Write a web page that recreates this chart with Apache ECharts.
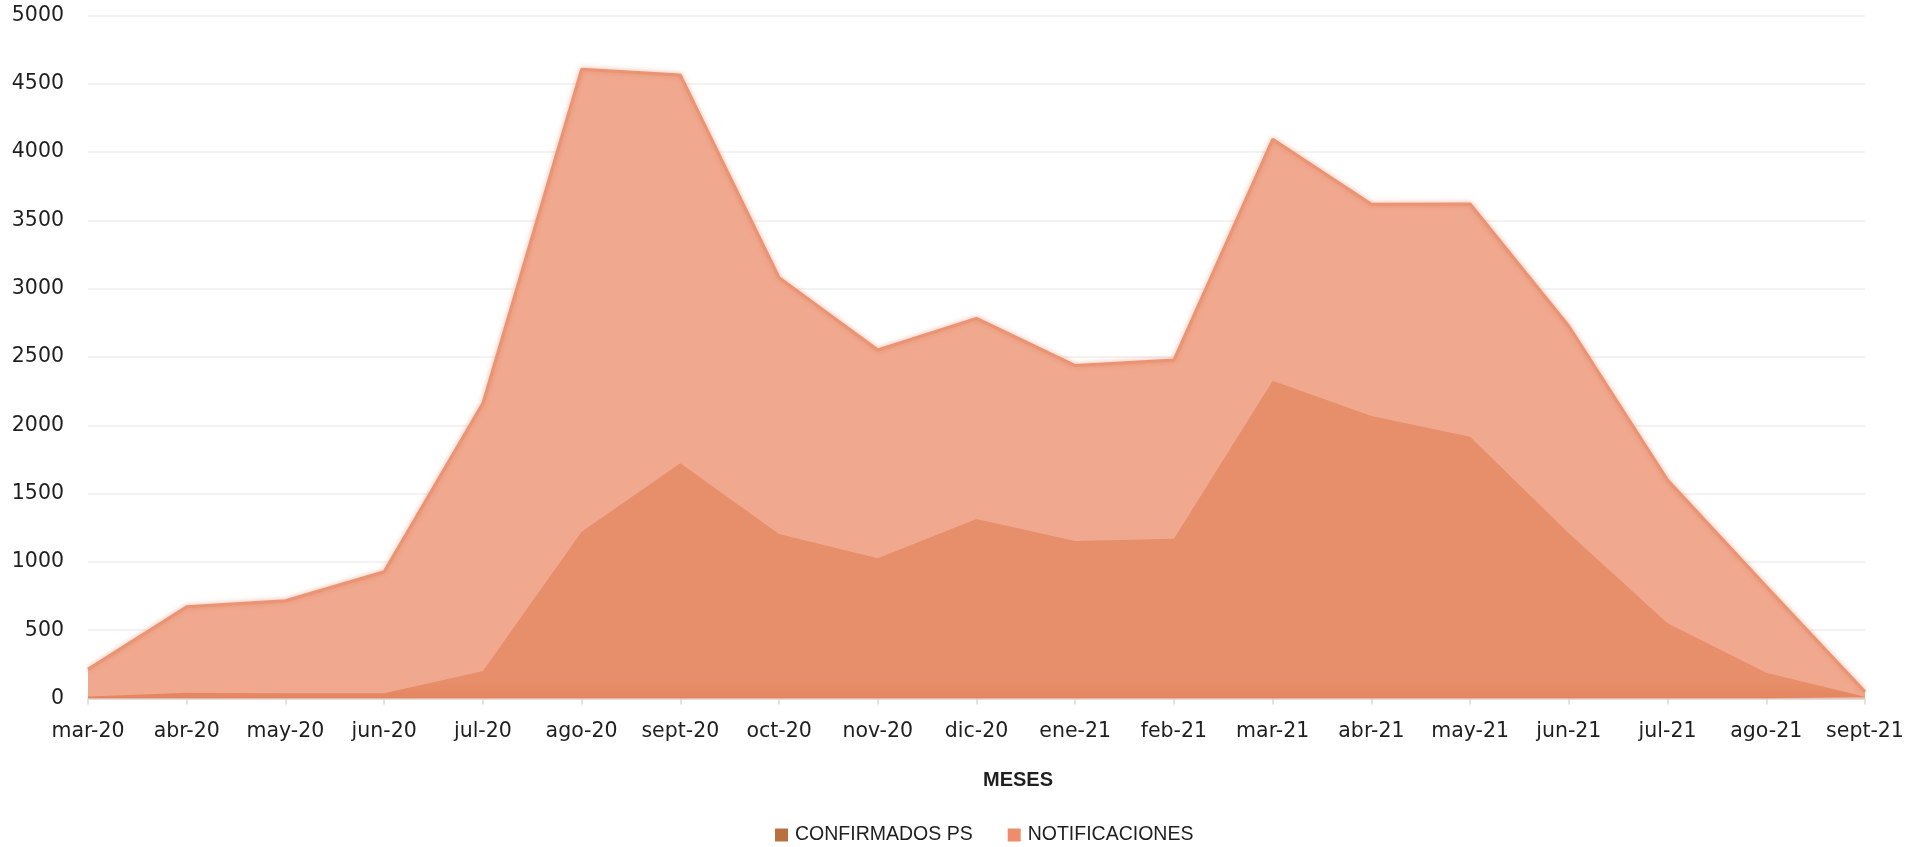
<!DOCTYPE html>
<html>
<head>
<meta charset="utf-8">
<title>Confirmados PS y notificaciones por mes</title>
<script src="https://cdn.jsdelivr.net/npm/echarts@6/dist/echarts.min.js"></script>
<style>
  html, body { margin: 0; padding: 0; background: #ffffff; }
  #chart { width: 1908px; height: 847px; }
</style>
</head>
<body>
<div id="chart"></div>
<script>
// Meses del periodo mar-2020 a sept-2021
const meses = ['mar-20', 'abr-20', 'may-20', 'jun-20', 'jul-20', 'ago-20', 'sept-20', 'oct-20', 'nov-20', 'dic-20',
  'ene-21', 'feb-21', 'mar-21', 'abr-21', 'may-21', 'jun-21', 'jul-21', 'ago-21', 'sept-21'];

// Notificaciones por mes
const notificaciones = [214, 672, 716, 928, 2161, 4606, 4564, 3081, 2551, 2783,
  2437, 2478, 4094, 3618, 3620, 2725, 1600, 820, 50];

// Casos confirmados PS por mes
const confirmadosPS = [15, 42, 38, 38, 201, 1221, 1722, 1204, 1026, 1314,
  1153, 1170, 2327, 2068, 1917, 1210, 550, 189, 13];

// Marcas del eje vertical
const ejeY = { min: 0, max: 5000, interval: 500 };

const chart = echarts.init(document.getElementById('chart'), null, { renderer: 'canvas' });

const option = {
  backgroundColor: '#ffffff',
  animation: false,
  grid: { left: 88, right: 43, top: 15.5, bottom: 148.5, containLabel: false },
  xAxis: {
    type: 'category',
    data: meses,
    boundaryGap: false,
    axisLine: { lineStyle: { color: '#D9D9D9', width: 1.5 } },
    axisTick: { show: true, interval: 0, alignWithLabel: true, length: 6, lineStyle: { color: '#D9D9D9', width: 1.5 } },
    axisLabel: { interval: 0, hideOverlap: false, color: '#1F1F1F', fontFamily: 'DejaVu Sans', fontSize: 20.5, margin: 23 },
    splitLine: { show: false }
  },
  yAxis: {
    type: 'value',
    min: ejeY.min,
    max: ejeY.max,
    interval: ejeY.interval,
    axisLine: { show: false },
    axisTick: { show: false },
    axisLabel: {
      color: '#1F1F1F', fontFamily: 'DejaVu Sans', fontSize: 20.5, margin: 24,
      formatter: function (v) { return String(v); }
    },
    splitLine: { lineStyle: { color: '#EFEFEF', width: 1.5 } }
  },
  legend: {
    left: 770,
    top: 820,
    itemWidth: 13,
    itemHeight: 13,
    itemGap: 35,
    icon: 'rect',
    textStyle: { color: '#1F1F1F', fontFamily: 'Liberation Sans', fontSize: 19.5, padding: [0, 0, 0, 2] },
    data: [
      { name: 'CONFIRMADOS PS', itemStyle: { color: '#B9703F' } },
      { name: 'NOTIFICACIONES', itemStyle: { color: '#ED8D6B' } }
    ]
  },
  graphic: [{
    type: 'text',
    left: 1017 - 34,
    top: 770,
    style: {
      text: 'MESES',
      fill: '#1F1F1F',
      font: 'bold 20px "Liberation Sans", sans-serif'
    }
  }],
  series: [
    {
      name: 'NOTIFICACIONES',
      type: 'line',
      data: notificaciones,
      showSymbol: false,
      symbol: 'none',
      z: 2,
      itemStyle: { color: '#ED8D6B' },
      lineStyle: { color: '#EA9473', width: 3, shadowColor: 'rgba(230,130,95,0.7)', shadowBlur: 5 },
      areaStyle: { color: '#F0A98F', opacity: 1 }
    },
    {
      name: 'CONFIRMADOS PS',
      type: 'line',
      data: confirmadosPS,
      showSymbol: false,
      symbol: 'none',
      z: 3,
      itemStyle: { color: '#B9703F' },
      lineStyle: { width: 0 },
      areaStyle: {
        opacity: 1,
        color: {
          type: 'linear', x: 0, y: 0, x2: 0, y2: 1,
          colorStops: [
            { offset: 0, color: '#E68F6A' },
            { offset: 0.95, color: '#E78F6A' },
            { offset: 1, color: '#E38560' }
          ]
        }
      }
    }
  ]
};

chart.setOption(option);
</script>
</body>
</html>
